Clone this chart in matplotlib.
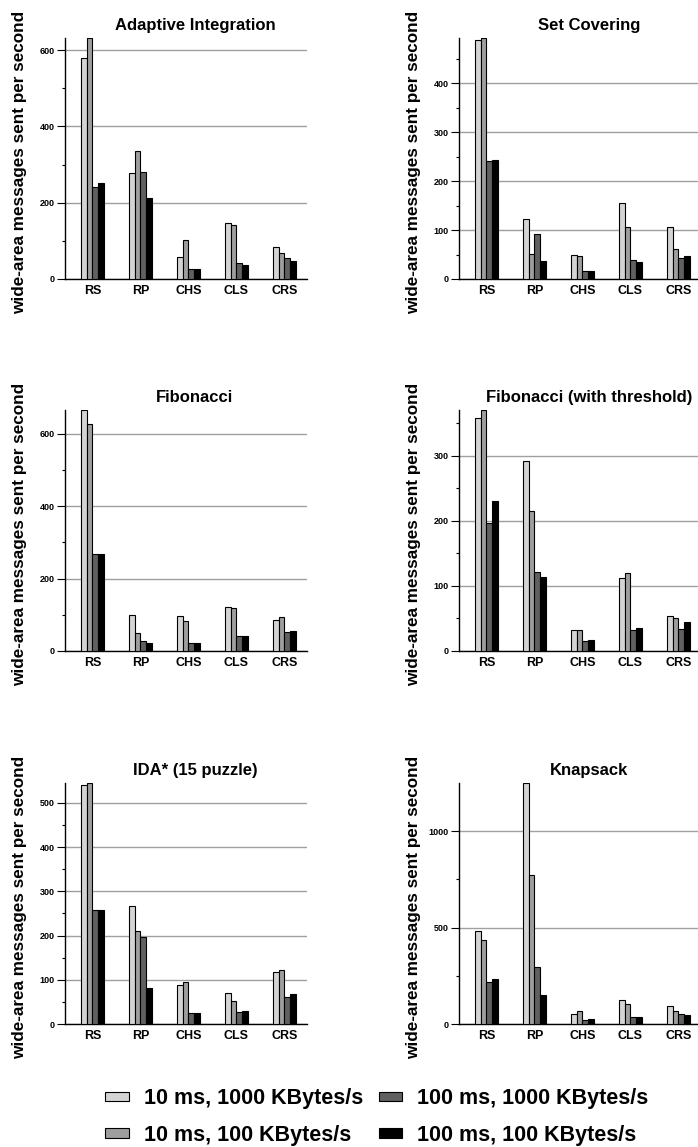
import numpy as np
import matplotlib
matplotlib.use("Agg")
import matplotlib.pyplot as plt
from matplotlib.ticker import MultipleLocator

plt.rcParams['font.family'] = ['Liberation Sans', 'DejaVu Sans']
plt.rcParams['font.weight'] = 'bold'

strategies = ["RS", "RP", "CHS", "CLS", "CRS"]
series = ["10 ms, 1000 KBytes/s", "10 ms, 100 KBytes/s",
          "100 ms, 1000 KBytes/s", "100 ms, 100 KBytes/s"]
shades = ["#d4d4d4", "#9e9e9e", "#606060", "#000000"]

# rows: strategy, cols: series (same order as 'series')
adaptive = [[580, 632, 240, 252], [277, 335, 280, 213], [59, 103, 26, 26],
            [146, 142, 42, 38], [84, 68, 55, 48]]
setcover = [[488, 492, 241, 243], [122, 52, 91, 37], [48, 46, 17, 17],
            [155, 107, 39, 35], [107, 61, 42, 47]]
fib = [[666, 627, 267, 267], [100, 51, 28, 23], [98, 83, 21, 21],
       [121, 119, 42, 42], [86, 94, 52, 56]]
fib_thr = [[358, 370, 196, 230], [292, 215, 122, 114], [33, 32, 16, 17],
           [112, 120, 32, 36], [54, 50, 34, 44]]
ida = [[541, 545, 258, 258], [267, 210, 197, 82], [89, 95, 24, 24],
       [70, 52, 27, 30], [117, 123, 60, 67]]
knapsack = [[483, 436, 220, 232], [1249, 773, 296, 149], [53, 65, 19, 24],
            [122, 105, 34, 34], [91, 67, 50, 45]]

panels = [("Adaptive Integration", adaptive, 200, 100),
          ("Set Covering", setcover, 100, 50),
          ("Fibonacci", fib, 200, 100),
          ("Fibonacci (with threshold)", fib_thr, 100, 50),
          ("IDA* (15 puzzle)", ida, 100, 50),
          ("Knapsack", knapsack, 500, 250)]

W, H = 698, 1147
fig = plt.figure(figsize=(W / 100, H / 100), dpi=100)

col_x = [65, 459]
row_y = [38, 410, 783]
aw, ah = 242, 241
bw = 0.12
x = np.arange(len(strategies))

for k, (title, vals, major, minor) in enumerate(panels):
    r, c = divmod(k, 2)
    x0, y0 = col_x[c], row_y[r]
    ax = fig.add_axes([x0 / W, 1 - (y0 + ah) / H, aw / W, ah / H])
    vals = np.array(vals)
    for i in range(len(series)):
        ax.bar(x + (i - 1.5) * bw, vals[:, i], bw, color=shades[i],
               edgecolor="black", linewidth=0.8, label=series[i], zorder=3)
    ax.set_ylim(0, vals.max())
    ax.set_xlim(-0.57, 4.47)
    ax.yaxis.set_major_locator(MultipleLocator(major))
    ax.yaxis.set_minor_locator(MultipleLocator(minor))
    ax.grid(True, axis="y", which="major", color="#a0a0a0", linewidth=1, zorder=0)
    ax.set_axisbelow(True)
    for s in ("top", "right"):
        ax.spines[s].set_visible(False)
    ax.spines["left"].set_linewidth(1)
    ax.spines["bottom"].set_linewidth(1)
    ax.set_xticks(x)
    ax.set_xticklabels(strategies, fontsize=9, fontweight="bold")
    ax.tick_params(axis="x", length=0, pad=4)
    ax.tick_params(axis="y", which="major", length=6, width=0.8, pad=1.5, labelsize=6.5)
    ax.tick_params(axis="y", which="minor", length=2, width=0.8)
    for t in ax.get_yticklabels():
        t.set_fontweight("bold")
    ax.set_title(title, fontsize=12, fontweight="bold", x=0.537, pad=6)
    ax.set_ylabel("wide-area messages sent per second", fontsize=12.3, fontweight="bold")
    ax.yaxis.set_label_coords(-38 / aw, 0.485)
    if k == 0:
        handles, labels = ax.get_legend_handles_labels()

fig.legend(handles, labels, ncol=2, loc="center", bbox_to_anchor=(377 / W, 30 / H),
           frameon=False, prop={"size": 15.5, "weight": "bold"},
           handlelength=1.1, handleheight=0.3, handletextpad=0.7,
           columnspacing=0.7, labelspacing=0.7, borderpad=0)

fig.savefig("out.png", dpi=100)
